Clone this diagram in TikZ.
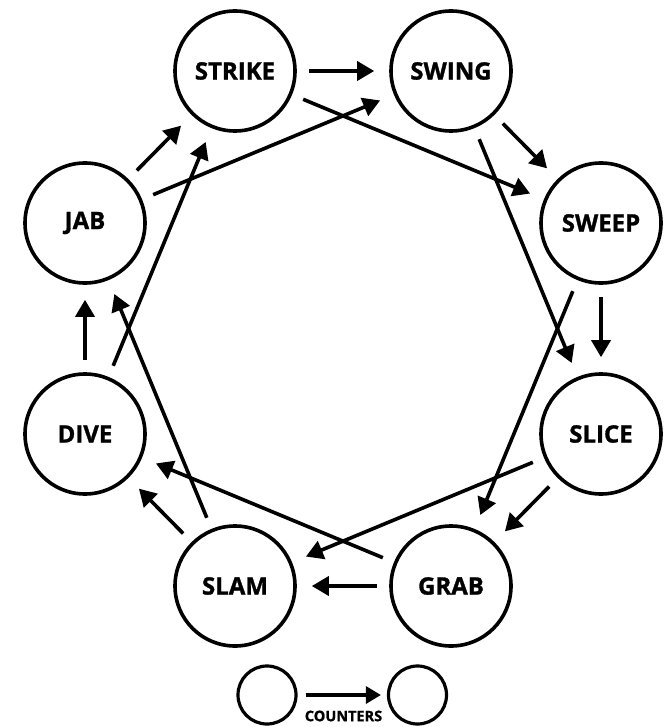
\documentclass[tikz,border=0pt]{standalone}
\usepackage{fontspec}
\setmainfont{Open Sans}[BoldFeatures={FakeBold=1.2}]
\usetikzlibrary{arrows.meta}
\tikzset{
  move/.style={circle, draw=black, line width=3.6pt, minimum size=120pt, inner sep=0pt,
    font=\fontsize{24}{28}\selectfont\bfseries},
  legendnode/.style={circle, draw=black, line width=3.2pt, minimum size=58pt, inner sep=0pt},
  beats/.style={line width=3.6pt, -{Triangle[length=17pt,width=19pt]}, shorten <=12pt, shorten >=15pt},
  legendarrow/.style={line width=3.2pt, -{Triangle[length=15pt,width=17pt]}, shorten <=8pt, shorten >=6pt},
  lbl/.style={font=\fontsize{14.5}{16}\selectfont\bfseries, inner sep=0pt}
}
\begin{document}
\begin{tikzpicture}[x=1pt,y=-1pt]
\useasboundingbox (0,0) rectangle (664,727);
\node[move] (strike) at (235,71) {STRIKE};
\node[move] (swing) at (451,71) {SWING};
\node[move] (sweep) at (601,223) {SWEEP};
\node[move] (slice) at (601,434) {SLICE};
\node[move] (grab) at (451,586) {GRAB};
\node[move] (slam) at (235,586) {SLAM};
\node[move] (dive) at (85,434) {DIVE};
\node[move] (jab) at (85,223) {JAB};
% adjacent
\draw[beats] (strike) -- (swing);
\draw[beats] (swing) -- (sweep);
\draw[beats] (sweep) -- (slice);
\draw[beats] (slice) -- (grab);
\draw[beats] (grab) -- (slam);
\draw[beats] (slam) -- (dive);
\draw[beats] (dive) -- (jab);
\draw[beats] (jab) -- (strike);
% skip one
\draw[beats] (strike) -- (sweep);
\draw[beats] (swing) -- (slice);
\draw[beats] (sweep) -- (grab);
\draw[beats] (slice) -- (slam);
\draw[beats] (grab) -- (dive);
\draw[beats] (slam) -- (jab);
\draw[beats] (dive) -- (strike);
\draw[beats] (jab) -- (swing);
% legend
\node[legendnode] (la) at (267,695) {};
\node[legendnode] (lb) at (417.5,695) {};
\draw[legendarrow] (la) -- (lb);
\node[lbl] (counters) at (343.5,716) {COUNTERS};
\end{tikzpicture}
\end{document}
